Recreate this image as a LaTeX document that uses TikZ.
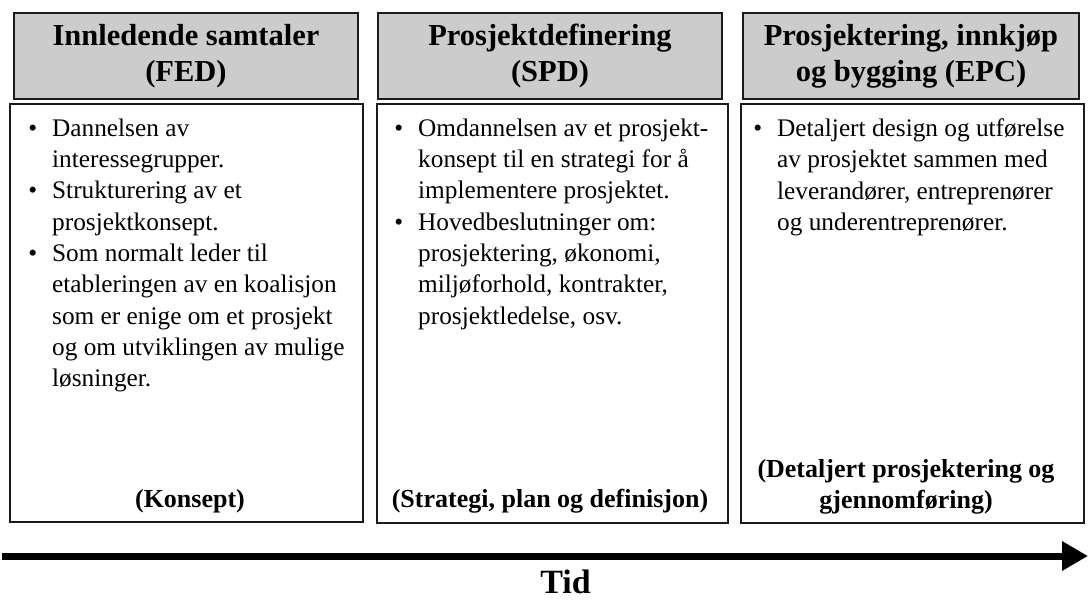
\documentclass[tikz,border=0pt]{standalone}
\usepackage{fontspec}
\setmainfont{Liberation Serif}
\usetikzlibrary{arrows.meta}
\definecolor{hdrgray}{HTML}{CCCCCC}
\definecolor{edge}{HTML}{1A1A1A}
\newcommand{\bul}{\llap{\textbullet\hspace{15pt}}}
\begin{document}
\begin{tikzpicture}[x=1pt,y=-1pt,
  hdrbox/.style={draw=edge, line width=2pt, fill=hdrgray, inner sep=0pt,
    minimum height=86pt, align=center,
    font=\fontsize{30.5}{36}\selectfont\bfseries},
  bodybox/.style={draw=edge, line width=2pt, fill=white, inner sep=0pt,
    minimum height=418pt},
  bodytext/.style={anchor=north west, inner sep=0pt, align=left,
    font=\fontsize{25.3}{31.3}\selectfont},
  labeltext/.style={inner sep=0pt, align=center,
    font=\fontsize{26}{31}\selectfont\bfseries},
  timearrow/.style={draw=black, line width=7pt, -{Triangle[length=26pt,width=28pt]}}
]
\useasboundingbox (0,0) rectangle (1088,602);

% headers
\node[hdrbox, minimum width=344pt] (h1) at (186,56) {Innledende samtaler\\(FED)};
\node[hdrbox, minimum width=344pt] (h2) at (550,56) {Prosjektdefinering\\(SPD)};
\node[hdrbox, minimum width=336pt] (h3) at (911,56) {Prosjektering, innkjøp\\og bygging (EPC)};

% bodies
\node[bodybox, minimum width=353pt] (b1) at (186.5,313) {};
\node[bodybox, minimum width=351pt] (b2) at (552.5,313.5) {};
\node[bodybox, minimum width=343pt] (b3) at (912.5,313.5) {};

% body texts
\node[bodytext] (t1) at (52,118.5) {\bul Dannelsen av\\
interessegrupper.\\
\bul Strukturering av et\\
prosjektkonsept.\\
\bul Som normalt leder til\\
etableringen av en koalisjon\\
som er enige om et prosjekt\\
og om utviklingen av mulige\\
løsninger.};

\node[bodytext] (t2) at (418,118.5) {\bul Omdannelsen av et prosjekt-\\
konsept til en strategi for å\\
implementere prosjektet.\\
\bul Hovedbeslutninger om:\\
prosjektering, økonomi,\\
miljøforhold, kontrakter,\\
prosjektledelse, osv.};

\node[bodytext] (t3) at (777,118.5) {\bul Detaljert design og utførelse\\
av prosjektet sammen med\\
leverandører, entreprenører\\
og underentreprenører.};

% bottom labels
\node[labeltext, anchor=base] (l1) at (190,507) {(Konsept)};
\node[labeltext, anchor=base] (l2) at (550,507) {(Strategi, plan og definisjon)};
\node[labeltext, anchor=south] (l3) at (906,514) {(Detaljert prosjektering og\\gjennomføring)};

% time arrow
\coordinate (as) at (2,556);
\coordinate (ae) at (1088,556);
\draw[timearrow] (as) -- (ae);
\node[inner sep=0pt, anchor=base, font=\fontsize{34}{38}\selectfont\bfseries] (tid) at (565.5,593) {Tid};
\end{tikzpicture}
\end{document}
